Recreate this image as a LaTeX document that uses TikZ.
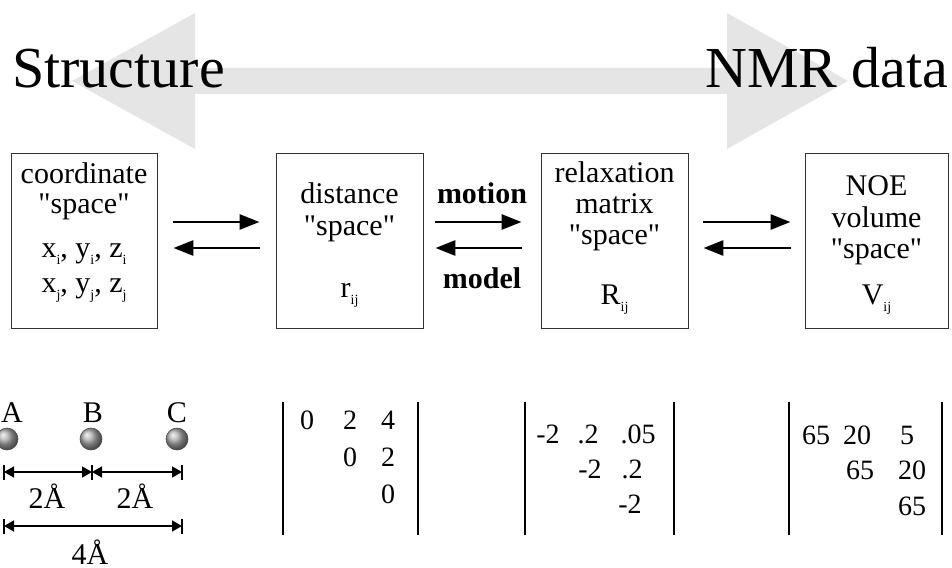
\documentclass[tikz,border=0pt]{standalone}
\usepackage{fontspec}
\setmainfont{Liberation Serif}
\usetikzlibrary{arrows.meta}
\newcommand{\sbs}[1]{\raisebox{-0.25em}{\fontsize{14}{14}\selectfont #1}}
\newcommand{\dq}{\XeTeXglyph\XeTeXcharglyph"22\relax}
\definecolor{bandgray}{gray}{0.9}
\tikzset{
  boxnode/.style={draw=black!80, line width=0.9pt, minimum width=#1, minimum height=175pt, inner sep=0pt},
  boxtxt/.style={font=\fontsize{30}{32}\selectfont, inner sep=0pt, anchor=base},
  boldtxt/.style={font=\fontsize{30}{32}\selectfont\bfseries, inner sep=0pt, anchor=base},
  bigtxt/.style={font=\fontsize{58}{60}\selectfont, inner sep=0pt, anchor=base west},
  numtxt/.style={font=\fontsize{28}{30}\selectfont, inner sep=0pt, anchor=base},
  arr/.style={line width=2.8pt, -{Triangle[length=20pt,width=15pt]}},
  dimarr/.style={line width=1.6pt, {Triangle[length=10pt,width=11pt]}-{Triangle[length=10pt,width=11pt]}},
  dimbar/.style={line width=2.2pt},
  mbar/.style={line width=2.8pt},
  ball/.style={circle, minimum size=22pt, inner sep=0pt, shading=ball, ball color=gray!65, draw=black!70, line width=0.6pt}
}
\begin{document}
\begin{tikzpicture}[x=1pt,y=-1pt]
\useasboundingbox (0,0) rectangle (952,567);
% big grey double arrow
\fill[bandgray] (72,81) -- (195,13) -- (195,68) -- (727,68) -- (727,13) -- (848,81)
  -- (727,149) -- (727,94) -- (195,94) -- (195,149) -- cycle;
\node[bigtxt] (st) at (12,88) {Structure};
\node[bigtxt] (nmr) at (705,88) {NMR data};
% boxes
\node[boxnode=146pt] (b1) at (84,240.5) {};
\node[boxnode=147pt] (b2) at (349.5,240.5) {};
\node[boxnode=147pt] (b3) at (614.5,240.5) {};
\node[boxnode=143pt] (b4) at (876.5,240.5) {};
% box texts
\node[boxtxt] (t11) at (84,183) {coordinate};
\node[boxtxt] (t12) at (84,213) {\dq space\dq};
\node[boxtxt] (t13) at (84,257) {x\sbs{i}, y\sbs{i}, z\sbs{i}};
\node[boxtxt] (t14) at (84,292) {x\sbs{j}, y\sbs{j}, z\sbs{j}};
\node[boxtxt] (t21) at (349.5,203) {distance};
\node[boxtxt] (t22) at (349.5,235) {\dq space\dq};
\node[boxtxt] (t23) at (349.5,297) {r\sbs{ij}};
\node[boxtxt] (t31) at (614.5,182) {relaxation};
\node[boxtxt] (t32) at (614.5,213) {matrix};
\node[boxtxt] (t33) at (614.5,244) {\dq space\dq};
\node[boxtxt] (t34) at (614.5,304) {R\sbs{ij}};
\node[boxtxt] (t41) at (876.5,195) {NOE};
\node[boxtxt] (t42) at (876.5,227) {volume};
\node[boxtxt] (t43) at (876.5,258) {\dq space\dq};
\node[boxtxt] (t44) at (876.5,304) {V\sbs{ij}};
% arrows
\coordinate (ya) at (0,222);
\coordinate (yb) at (0,248);
\draw[arr, shorten <=16pt, shorten >=16pt] (b1.east |- ya) -- (b2.west |- ya);
\draw[arr, shorten <=16pt, shorten >=16pt] (b2.west |- yb) -- (b1.east |- yb);
\draw[arr, shorten <=12pt, shorten >=19pt] (b2.east |- ya) -- (b3.west |- ya);
\draw[arr, shorten <=19pt, shorten >=12pt] (b3.west |- yb) -- (b2.east |- yb);
\draw[arr, shorten <=15pt, shorten >=14pt] (b3.east |- ya) -- (b4.west |- ya);
\draw[arr, shorten <=14pt, shorten >=15pt] (b4.west |- yb) -- (b3.east |- yb);
\node[boldtxt] (mot) at (482,203) {motion};
\node[boldtxt] (mod) at (482,288) {model};
% atoms
\node[boxtxt] (la) at (12,422) {A};
\node[boxtxt] (lb) at (93,422) {B};
\node[boxtxt] (lc) at (177,422) {C};
\node[ball] (A) at (7,439) {};
\node[ball] (B) at (91,439) {};
\node[ball] (C) at (177,439) {};
% dimension lines
\coordinate (d0) at (4,472);
\coordinate (d1) at (92,472);
\coordinate (d2) at (182,472);
\coordinate (e0) at (4,526);
\coordinate (e2) at (182,526);
\draw[dimarr] (d0) -- (d1);
\draw[dimarr] (d1) -- (d2);
\draw[dimarr] (e0) -- (e2);
\foreach \c in {d0,d1,d2,e0,e2} {\draw[dimbar] ([yshift=-7.5pt]\c) -- ([yshift=7.5pt]\c);}
\node[boxtxt] (l1) at (47,508) {2Å};
\node[boxtxt] (l2) at (135,508) {2Å};
\node[boxtxt] (l3) at (90,564) {4Å};
% matrices
\draw[mbar] (283,402) -- (283,535);
\draw[mbar] (418,402) -- (418,535);
\draw[mbar] (525,402) -- (525,535);
\draw[mbar] (674,402) -- (674,535);
\draw[mbar] (789,402) -- (789,535);
\draw[mbar] (942,402) -- (942,535);
\node[numtxt] (m111) at (307,429) {0};
\node[numtxt] (m112) at (350,429) {2};
\node[numtxt] (m113) at (388,429) {4};
\node[numtxt] (m122) at (350,466) {0};
\node[numtxt] (m123) at (388,466) {2};
\node[numtxt] (m133) at (388,503) {0};
\node[numtxt] (m211) at (548,443) {-2};
\node[numtxt] (m212) at (588,443) {.2};
\node[numtxt] (m213) at (638,443) {.05};
\node[numtxt] (m222) at (590,478) {-2};
\node[numtxt] (m223) at (632,478) {.2};
\node[numtxt] (m233) at (630,513) {-2};
\node[numtxt] (m311) at (816,444) {65};
\node[numtxt] (m312) at (857,444) {20};
\node[numtxt] (m313) at (907,444) {5};
\node[numtxt] (m322) at (860,479) {65};
\node[numtxt] (m323) at (912,479) {20};
\node[numtxt] (m333) at (912,515) {65};
\end{tikzpicture}
\end{document}
